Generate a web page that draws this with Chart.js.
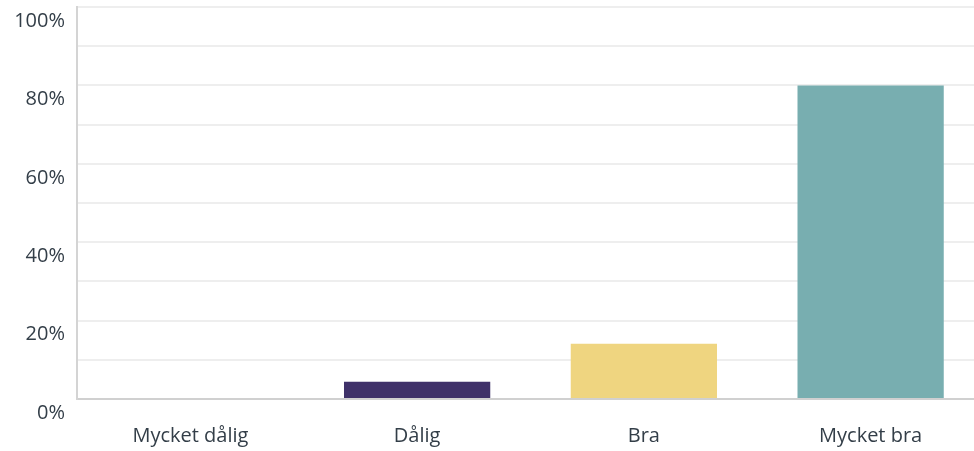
<!DOCTYPE html>
<html>
<head>
<meta charset="utf-8">
<script src="https://cdn.jsdelivr.net/npm/chart.js@4"></script>
<style>
  html, body { margin: 0; padding: 0; background: #fff; overflow: hidden; }
  #wrap { width: 984px; height: 451px; position: relative; }
</style>
</head>
<body>
<div id="wrap"><canvas id="chart"></canvas></div>
<script>
const categories = ['Mycket dålig', 'Dålig', 'Bra', 'Mycket bra'];
const percentValues = [0, 4.4, 14.1, 80];
const barColors = ['#d25f90', '#3f3169', '#efd580', '#78aeb0'];
const yTickLabels = ['0%', '20%', '40%', '60%', '80%', '100%'];

const textColor = '#333e48';
const fontFamily = "'Open Sans', 'Noto Sans', sans-serif";

const ctx = document.getElementById('chart').getContext('2d');
new Chart(ctx, {
  type: 'bar',
  data: {
    labels: categories,
    datasets: [{
      data: percentValues,
      backgroundColor: barColors,
      borderWidth: 0,
      barPercentage: 0.645,
      categoryPercentage: 1
    }]
  },
  options: {
    responsive: true,
    maintainAspectRatio: false,
    animation: false,
    layout: { padding: { top: 7, right: 0, left: 0, bottom: 0 } },
    plugins: {
      legend: { display: false },
      tooltip: { enabled: false }
    },
    scales: {
      x: {
        grid: { display: false, drawTicks: false },
        border: { display: true, color: '#d0d0d0', width: 2 },
        ticks: { color: textColor, font: { family: fontFamily, size: 20 }, padding: 25, maxRotation: 0 },
        afterFit: function(scale) {
          scale.height = 52;
          scale.paddingLeft = 0;
          scale.paddingRight = 0;
        }
      },
      y: {
        min: 0,
        max: 100,
        grid: { color: '#eeeeee', lineWidth: 2, drawTicks: false },
        border: { display: true, color: '#d4d4d4', width: 2 },
        ticks: {
          stepSize: 10,
          color: textColor,
          padding: 12,
          labelOffset: 14,
          font: { family: fontFamily, size: 20 },
          callback: function(value) {
            const idx = yTickLabels.indexOf(value + '%');
            return idx >= 0 ? yTickLabels[idx] : '';
          }
        },
        afterFit: function(scale) {
          scale.width = 77;
          scale.paddingTop = 0;
          scale.paddingBottom = 0;
        }
      }
    }
  }
});
</script>
</body>
</html>
